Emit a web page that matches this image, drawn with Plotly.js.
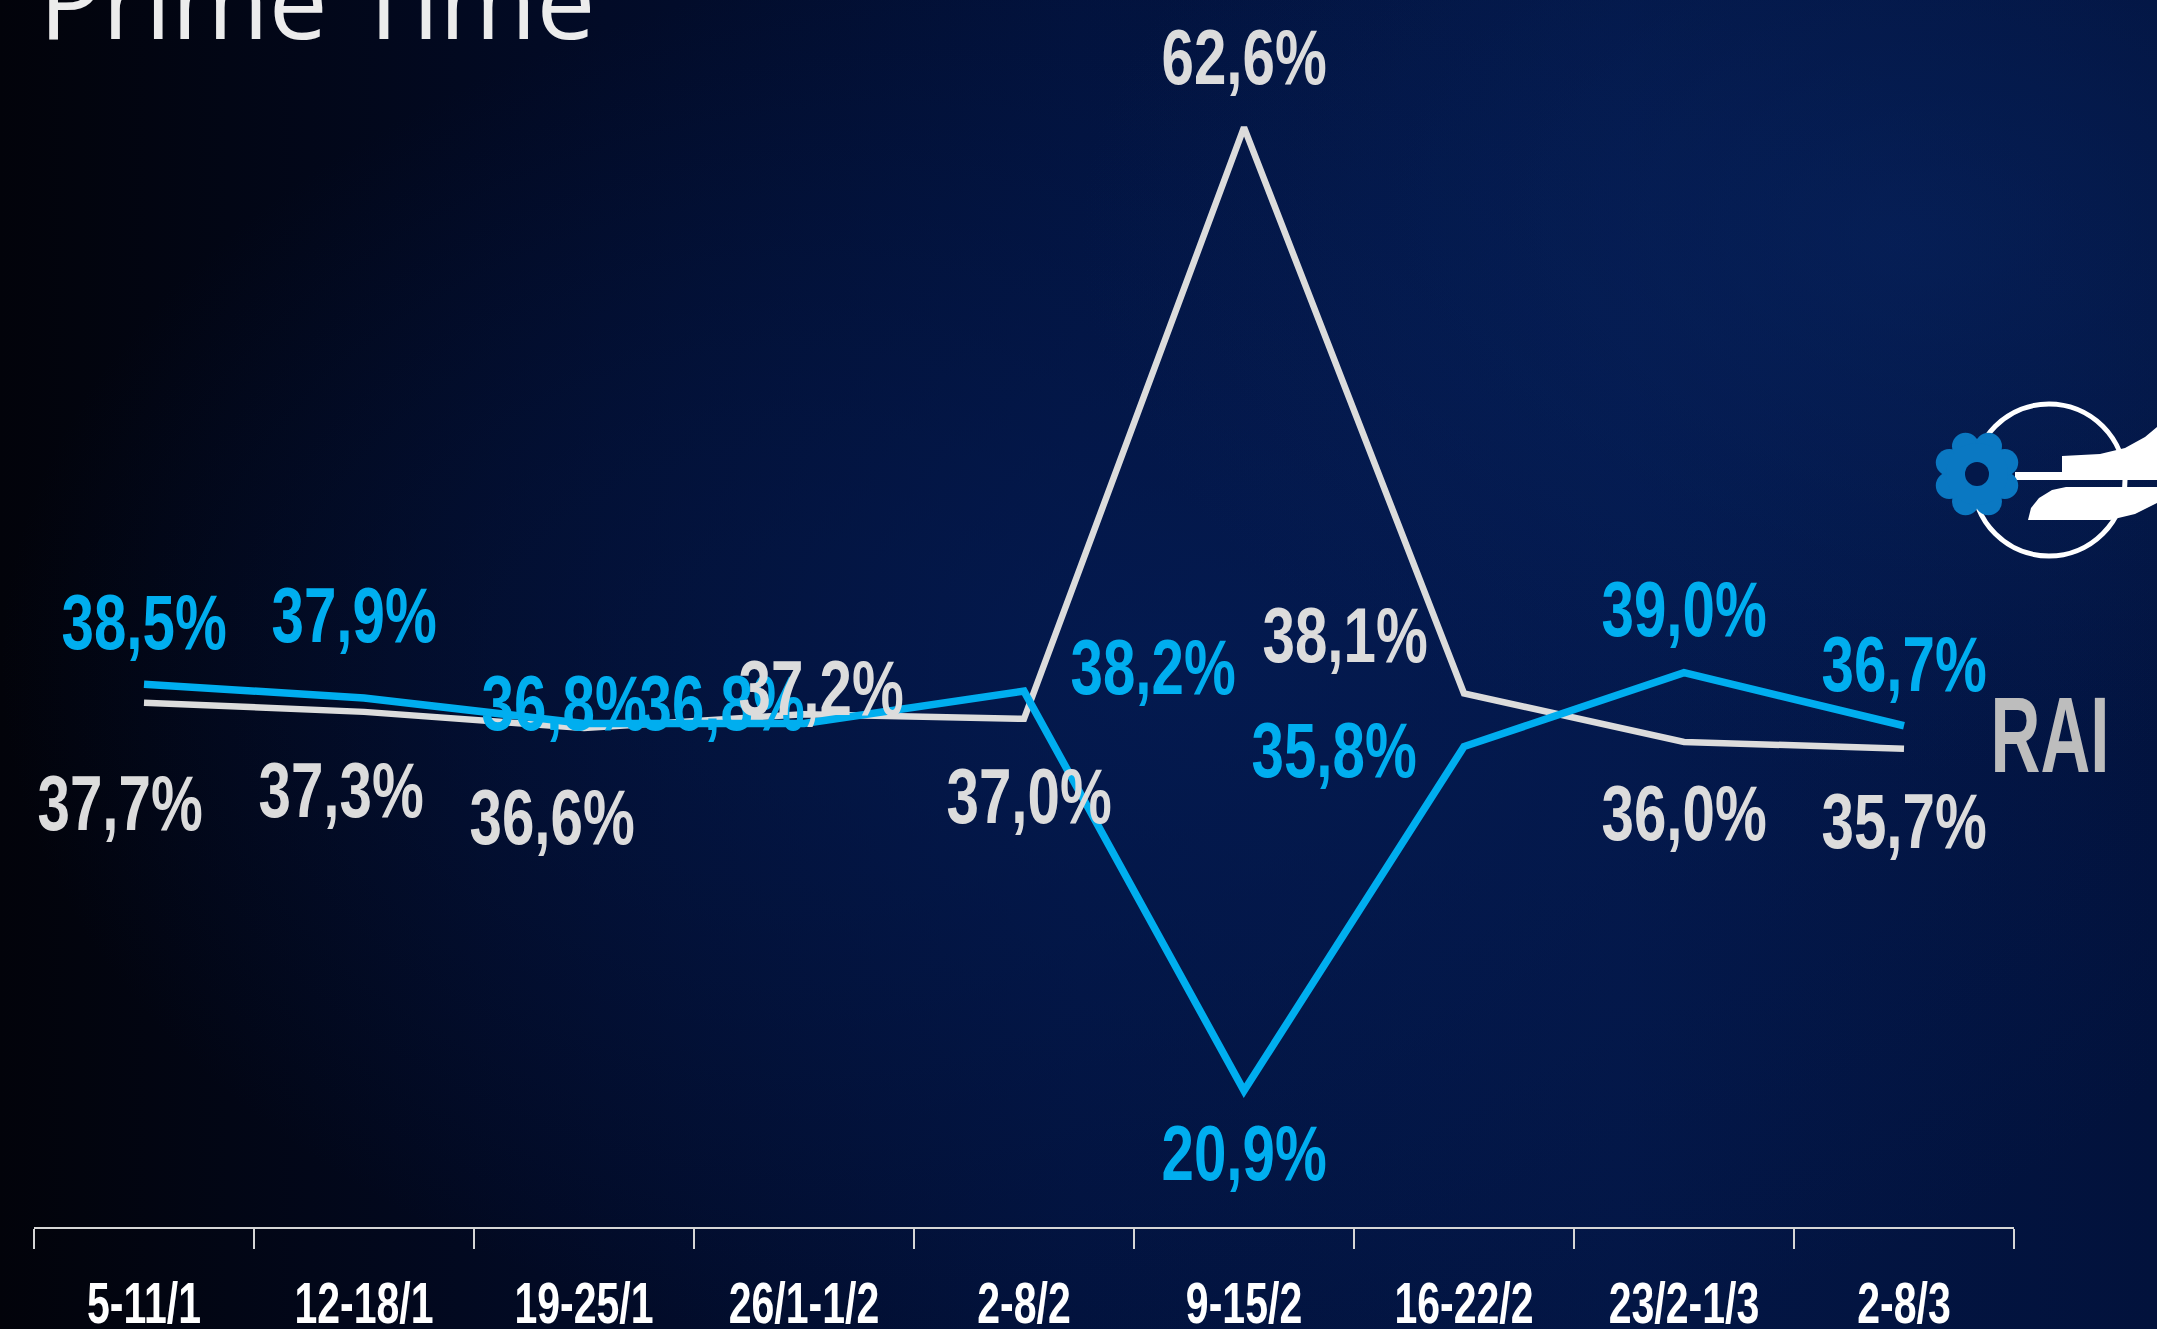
<!DOCTYPE html>
<html>
<head>
<meta charset="utf-8">
<script src="https://cdn.plot.ly/plotly-3.0.1.min.js"></script>
<style>
  html, body { margin: 0; padding: 0; width: 2157px; height: 1329px; overflow: hidden; }
  body {
    background:
      radial-gradient(ellipse 38% 40% at 88% 18%, rgba(8,38,100,0.55) 0%, rgba(8,38,100,0) 100%),
      radial-gradient(ellipse 55% 55% at 55% 50%, rgba(4,28,85,0.75) 0%, rgba(4,28,85,0) 100%),
      linear-gradient(90deg, #02030a 0%, #020a24 25%, #02123c 50%, #031645 75%, #02123c 100%);
  }
  #chart { width: 2157px; height: 1329px; }
</style>
</head>
<body>
<div id="chart"></div>
<script>
// ---- data ----
const weeks = ['5-11/1','12-18/1','19-25/1','26/1-1/2','2-8/2','9-15/2','16-22/2','23/2-1/3','2-8/3'];
const mediaset = [38.5, 37.9, 36.8, 36.8, 38.2, 20.9, 35.8, 39.0, 36.7];
const rai = [37.7, 37.3, 36.6, 37.2, 37.0, 62.6, 38.1, 36.0, 35.7];

// ---- label placement (pixel shifts from each point) ----
const maShiftX = [0, -10, -20, -82, 129, 0, -130, 0, 0];
const maShiftY = [62, 83, 20, 20, 24, -62, -3, 64, 62];
const raiShiftX = [-24, -23, -32, 17, 5, 0, -119, 0, 0];
const raiShiftY = [-100, -78, -89, 26, -77, 70, 58, -71, -72];

const BLUE = '#00aeef';
const WHITE = '#dcdcdc';
const COND = '"Liberation Sans", Arial, sans-serif';

const W = 2157, H = 1329;
const M = {l: 34, r: 143, t: 72, b: 102};
const PW = W - M.l - M.r, PH = H - M.t - M.b;
const px = x => (x - M.l) / PW;
const py = y => (H - M.b - y) / PH;

const fmt = v => v.toFixed(1).replace('.', ',') + '%';

const annotations = [];
mediaset.forEach((v, i) => annotations.push({
  x: weeks[i], y: v, xref: 'x', yref: 'y', text: fmt(v), showarrow: false,
  xshift: maShiftX[i], yshift: maShiftY[i],
  font: {family: COND, size: 77, color: BLUE, weight: 'bold'}
}));
rai.forEach((v, i) => annotations.push({
  x: weeks[i], y: v, xref: 'x', yref: 'y', text: fmt(v), showarrow: false,
  xshift: raiShiftX[i], yshift: raiShiftY[i],
  font: {family: COND, size: 77, color: WHITE, weight: 'bold'}
}));
// title
annotations.push({
  xref: 'paper', yref: 'paper', x: px(37), y: py(72), xanchor: 'left', yanchor: 'bottom',
  text: 'Prime Time', showarrow: false,
  font: {family: '"Open Sans", "Noto Sans", sans-serif', size: 105, color: '#ececec', weight: 500}
});
// RAI label
annotations.push({
  xref: 'paper', yref: 'paper', x: px(2050), y: py(734), xanchor: 'center', yanchor: 'middle',
  text: 'RAI', showarrow: false,
  font: {family: COND, size: 108, color: '#bdbdbd', weight: 'bold'}
});

// ---- logo shapes (decoration) ----
const shapes = [];
const circ = (cx, cy, r, style) => Object.assign({
  type: 'circle', xref: 'paper', yref: 'paper',
  x0: px(cx - r), x1: px(cx + r), y0: py(cy + r), y1: py(cy - r)
}, style);
const path = pts => 'M ' + pts.map(p => px(p[0]) + ',' + py(p[1])).join(' L ') + ' Z';

shapes.push(circ(2049, 480, 76, {line: {color: '#ffffff', width: 5}, fillcolor: 'rgba(0,0,0,0)'}));
// white wings
shapes.push({type: 'path', xref: 'paper', yref: 'paper', fillcolor: '#ffffff', line: {width: 0},
  path: path([[2015, 472], [2062, 472], [2062, 456], [2100, 454], [2125, 448], [2145, 437], [2157, 427], [2157, 480], [2015, 480]])});
shapes.push({type: 'path', xref: 'paper', yref: 'paper', fillcolor: '#ffffff', line: {width: 0},
  path: path([[2028, 520], [2031, 508], [2039, 498], [2052, 490], [2066, 487], [2157, 487], [2157, 503], [2135, 514], [2110, 520]])});
// blue flower
const FB = '#0a78c2';
for (let k = 0; k < 8; k++) {
  const a = k * Math.PI / 4 + Math.PI / 8;
  shapes.push(circ(1977 + 30 * Math.cos(a), 474 + 30 * Math.sin(a), 13.5, {fillcolor: FB, line: {width: 0}}));
}
shapes.push(circ(1977, 474, 31, {fillcolor: FB, line: {width: 0}}));
shapes.push(circ(1977, 474, 12, {fillcolor: '#03184a', line: {width: 0}}));

const traces = [
  {x: weeks, y: rai, type: 'scatter', mode: 'lines', name: 'RAI',
   line: {color: WHITE, width: 6.5}, hoverinfo: 'skip', cliponaxis: false},
  {x: weeks, y: mediaset, type: 'scatter', mode: 'lines', name: 'Mediaset',
   line: {color: BLUE, width: 7.5}, hoverinfo: 'skip', cliponaxis: false}
];

const layout = {
  width: W, height: H,
  margin: M,
  paper_bgcolor: 'rgba(0,0,0,0)', plot_bgcolor: 'rgba(0,0,0,0)',
  showlegend: false,
  xaxis: {
    type: 'category', range: [-0.5, 8.5], fixedrange: true,
    showgrid: false, zeroline: false,
    showline: true, linecolor: '#d6d6d6', linewidth: 2,
    ticks: 'outside', tickson: 'boundaries', ticklen: 20, tickwidth: 2, tickcolor: '#d6d6d6',
    tickfont: {family: COND, size: 57, color: '#ffffff', weight: 'bold'},
    tickangle: 0, ticklabelstandoff: 26
  },
  yaxis: {
    range: [15, 65], visible: false, fixedrange: true, showgrid: false, zeroline: false
  },
  annotations: annotations,
  shapes: shapes
};

// horizontally condense the bold labels to mimic the condensed typeface
function condense(el, factor) {
  const len = el.getComputedTextLength();
  if (len > 0) {
    el.setAttribute('textLength', (len * factor).toFixed(1));
    el.setAttribute('lengthAdjust', 'spacingAndGlyphs');
  }
}
Plotly.newPlot('chart', traces, layout, {displayModeBar: false, staticPlot: true}).then(gd => {
  gd.querySelectorAll('text.annotation-text').forEach(t => {
    const s = t.textContent;
    if (s === 'Prime Time') return;
    condense(t, s === 'RAI' ? 0.64 : 0.757);
  });
  gd.querySelectorAll('g.xtick > text').forEach(t => condense(t, 0.72));
});
</script>
</body>
</html>
